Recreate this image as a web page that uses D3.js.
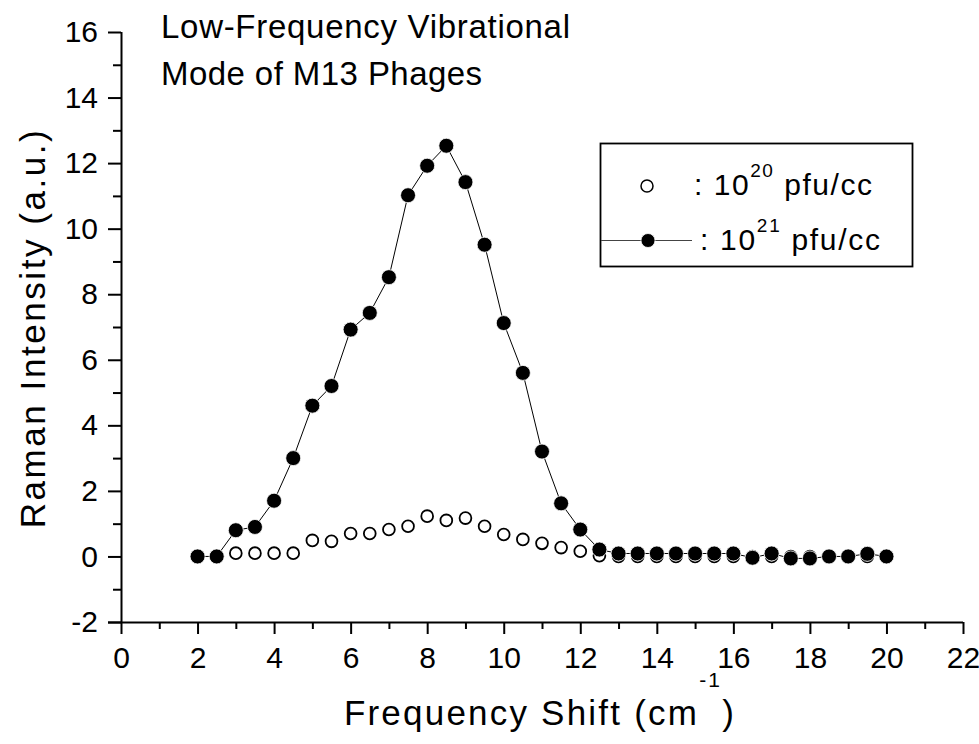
<!DOCTYPE html>
<html><head><meta charset="utf-8">
<script src="https://cdn.jsdelivr.net/npm/d3@7"></script>
<style>body{margin:0;background:#fff}svg{display:block}text{font-family:"Liberation Sans",Arial,sans-serif;fill:#000}</style>
</head><body><svg id="c" width="979" height="744"></svg>
<script>
const shiftX = [2,2.5,3,3.5,4,4.5,5,5.5,6,6.5,7,7.5,8,8.5,9,9.5,10,10.5,11,11.5,12,12.5,13,13.5,14,14.5,15,15.5,16,16.5,17,17.5,18,18.5,19,19.5,20];
const open20 = [0,0,0.1,0.1,0.1,0.1,0.49,0.46,0.7,0.7,0.82,0.92,1.23,1.1,1.17,0.92,0.67,0.52,0.4,0.27,0.16,0.02,0,0,0,0,0,0,0,0,0,0,0,0,0,0,0];
const filled21 = [0,0,0.8,0.9,1.7,3.0,4.6,5.2,6.92,7.43,8.52,11.02,11.92,12.53,11.42,9.51,7.12,5.6,3.2,1.62,0.82,0.21,0.09,0.09,0.09,0.09,0.09,0.09,0.09,-0.04,0.09,-0.06,-0.06,0,0,0.08,0];
const xTicks = [0,2,4,6,8,10,12,14,16,18,20,22];
const yTicks = [-2,0,2,4,6,8,10,12,14,16];
const titleLines = ["Low-Frequency Vibrational","Mode of M13 Phages"];

const svg = d3.select("#c");
const x = d3.scaleLinear().domain([0,22]).range([121,963]);
const y = d3.scaleLinear().domain([-2,16]).range([622,32]);

function fit(sel, target){
  const n = sel.text().length;
  const w = sel.node().getComputedTextLength();
  sel.style("letter-spacing", Math.max(0,(target - w)/(n-1)) + "px");
}
const fmt = d => String(d);

// axes
const xAxis = svg.append("g").attr("transform","translate(0,"+y(-2)+")")
  .call(d3.axisBottom(x).tickValues(xTicks).tickSize(12).tickPadding(13).tickFormat(fmt));
const xMinor = svg.append("g").attr("transform","translate(0,"+y(-2)+")")
  .call(d3.axisBottom(x).tickValues(d3.range(1,22,2)).tickSize(7).tickFormat(""));
xMinor.select(".domain").remove();
const yAxis = svg.append("g").attr("transform","translate("+x(0)+",0)")
  .call(d3.axisLeft(y).tickValues(yTicks).tickSize(13).tickPadding(10).tickFormat(fmt));
const yMinor = svg.append("g").attr("transform","translate("+x(0)+",0)")
  .call(d3.axisLeft(y).tickValues(d3.range(-1,16,2)).tickSize(8).tickFormat(""));
yMinor.select(".domain").remove();
svg.selectAll(".domain").attr("stroke","#000").attr("stroke-width",2);
svg.selectAll(".tick line").attr("stroke","#000").attr("stroke-width",2);
svg.selectAll(".tick text").attr("font-size",30).attr("font-family","Liberation Sans, Arial, sans-serif").attr("fill","#000");
xAxis.select(".domain").attr("d","M108,0.5H963");
yAxis.select(".domain").attr("d","M0.5,"+y(16)+"V"+(y(-2)+1));

// axis titles
const xt = svg.append("text").attr("x",540).attr("y",725).attr("text-anchor","middle").attr("font-size",35)
  .html('Frequency Shift (cm<tspan dy="-38" font-size="21">-1</tspan><tspan dy="38">)</tspan>');
fit(xt, 390);
const yt = svg.append("text").attr("transform","translate(45,328) rotate(-90)").attr("text-anchor","middle").attr("font-size",35)
  .text("Raman Intensity (a.u.)");
fit(yt, 398);

// title
const titleW = [409, 321];
titleLines.forEach((t,i)=>{
  const tt = svg.append("text").attr("x",161).attr("y",38+i*46.5).attr("font-size",33).text(t);
  fit(tt, titleW[i]);
});

// data
const d20 = shiftX.map((v,i)=>[v,open20[i]]);
const d21 = shiftX.map((v,i)=>[v,filled21[i]]);
svg.append("path").datum(d21).attr("fill","none").attr("stroke","#000").attr("stroke-width",1)
  .attr("d",d3.line().x(d=>x(d[0])).y(d=>y(d[1])));
svg.append("g").selectAll("circle").data(d20).join("circle")
  .attr("cx",d=>x(d[0])).attr("cy",d=>y(d[1])).attr("r",5.9)
  .attr("fill","#fff").attr("stroke","#000").attr("stroke-width",1.8);
svg.append("g").selectAll("circle").data(d21).join("circle")
  .attr("cx",d=>x(d[0])).attr("cy",d=>y(d[1])).attr("r",7.5)
  .attr("fill","#000").attr("stroke","#fff").attr("stroke-width",0.8);

// legend
const lg = svg.append("g");
lg.append("rect").attr("x",600.5).attr("y",143.5).attr("width",312).attr("height",123)
  .attr("fill","#fff").attr("stroke","#000").attr("stroke-width",1.8);
lg.append("circle").attr("cx",647).attr("cy",186).attr("r",6).attr("fill","#fff").attr("stroke","#000").attr("stroke-width",1.5);
lg.append("line").attr("x1",601).attr("x2",692).attr("y1",240.5).attr("y2",240.5).attr("stroke","#444").attr("stroke-width",1);
lg.append("circle").attr("cx",648).attr("cy",240.5).attr("r",7).attr("fill","#000").attr("stroke","#fff").attr("stroke-width",0.8);
const l1 = lg.append("text").attr("x",694).attr("y",195).attr("font-size",30)
  .html(': 10<tspan dy="-18" font-size="19">20</tspan><tspan dy="18"> pfu/cc</tspan>');
fit(l1, 178);
const l2 = lg.append("text").attr("x",700).attr("y",250).attr("font-size",30)
  .html(': 10<tspan dy="-18" font-size="19">21</tspan><tspan dy="18"> pfu/cc</tspan>');
fit(l2, 180);
</script></body></html>
